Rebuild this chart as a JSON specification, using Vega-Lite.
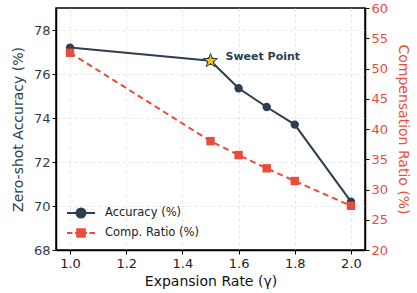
{
  "$schema": "https://vega.github.io/schema/vega-lite/v6.json",
  "width": 309,
  "height": 242,
  "autosize": {"type": "none"},
  "padding": {"left": 56, "top": 8, "right": 52, "bottom": 43},
  "config": {
    "font": "DejaVu Sans",
    "view": {"stroke": "black", "strokeWidth": 1.5},
    "axis": {
      "labelFont": "DejaVu Sans", "titleFont": "DejaVu Sans",
      "labelFontSize": 13, "titleFontSize": 14, "titleFontWeight": "normal",
      "domainColor": "black", "domainWidth": 1.5, "tickColor": "black", "tickSize": 4, "tickWidth": 1,
      "gridColor": "#dedede", "gridDash": [3, 3], "gridWidth": 0.8
    }
  },
  "data": {"values": [
    {"rate": 1.0, "accuracy": 77.2, "ratio": 52.6, "label": ""},
    {"rate": 1.5, "accuracy": 76.6, "ratio": 38.0, "label": "Sweet Point"},
    {"rate": 1.6, "accuracy": 75.35, "ratio": 35.7, "label": ""},
    {"rate": 1.7, "accuracy": 74.5, "ratio": 33.5, "label": ""},
    {"rate": 1.8, "accuracy": 73.7, "ratio": 31.4, "label": ""},
    {"rate": 2.0, "accuracy": 70.2, "ratio": 27.3, "label": ""}
  ]},
  "layer": [
    {
      "mark": {"type": "line", "strokeWidth": 2, "point": {"filled": true, "size": 70, "shape": "circle"}},
      "encoding": {
        "x": {"field": "rate", "type": "quantitative",
          "scale": {"domain": [0.95, 2.05], "nice": false, "zero": false},
          "axis": {"values": [1.0, 1.2, 1.4, 1.6, 1.8, 2.0], "format": ".1f", "title": "Expansion Rate (γ)", "labelColor": "#222", "titleColor": "#111", "labelPadding": 3, "titlePadding": 4}},
        "y": {"field": "accuracy", "type": "quantitative",
          "scale": {"domain": [68, 79], "nice": false, "zero": false},
          "axis": {"orient": "left", "values": [68, 70, 72, 74, 76, 78], "title": "Zero-shot Accuracy (%)", "labelColor": "#2c3e50", "titleColor": "#2c3e50", "titlePadding": 8}},
        "color": {"datum": "Accuracy (%)", "type": "nominal",
          "scale": {"domain": ["Accuracy (%)", "Comp. Ratio (%)"], "range": ["#2c3e50", "#e74c3c"]},
          "legend": {
            "title": null, "orient": "none", "legendX": 14, "legendY": 194,
            "labelFontSize": 11.5, "labelColor": "#222", "symbolSize": 400, "symbolStrokeWidth": 2, "rowPadding": 0, "labelOffset": 13,
            "encode": {"symbols": {"update": {
              "shape": {"signal": "datum.value === 'Accuracy (%)' ? 'M-1.4,0L-0.4,0M0.4,0L1.4,0M0.45,0A0.45,0.45,0,1,1,-0.45,0A0.45,0.45,0,1,1,0.45,0Z' : 'M-1.4,0L-0.85,0M-0.6,0L-0.45,0M0.45,0L0.6,0M0.85,0L1.4,0M-0.38,-0.38L0.38,-0.38L0.38,0.38L-0.38,0.38Z'"},
              "fill": {"signal": "datum.value === 'Accuracy (%)' ? '#2c3e50' : '#e74c3c'"},
              "stroke": {"signal": "datum.value === 'Accuracy (%)' ? '#2c3e50' : '#e74c3c'"},
              "opacity": {"value": 1}
            }}}
          }}
      }
    },
    {
      "mark": {"type": "line", "strokeWidth": 2, "strokeDash": [6, 4], "point": {"filled": true, "size": 70, "shape": "square"}},
      "encoding": {
        "x": {"field": "rate", "type": "quantitative"},
        "y": {"field": "ratio", "type": "quantitative",
          "scale": {"domain": [20, 60], "nice": false, "zero": false},
          "axis": {"orient": "right", "values": [20, 25, 30, 35, 40, 45, 50, 55, 60], "title": "Compensation Ratio (%)", "labelColor": "#e74c3c", "titleColor": "#e74c3c", "titlePadding": 8}},
        "color": {"datum": "Comp. Ratio (%)", "type": "nominal"}
      }
    },
    {
      "transform": [{"filter": "datum.rate === 1.5"}],
      "mark": {"type": "point", "shape": "M0,-1L0.2234,-0.3074L0.9511,-0.309L0.3614,0.1174L0.5878,0.809L0,0.38L-0.5878,0.809L-0.3614,0.1174L-0.9511,-0.309L-0.2234,-0.3074Z", "filled": true, "fill": "#f1c40f", "stroke": "#2c3e50", "strokeWidth": 1, "size": 220, "opacity": 1},
      "encoding": {
        "x": {"field": "rate", "type": "quantitative"},
        "y": {"field": "accuracy", "type": "quantitative", "scale": {"domain": [68, 79], "nice": false, "zero": false}, "axis": null}
      }
    },
    {
      "transform": [{"filter": "datum.rate === 1.5"}],
      "mark": {"type": "text", "align": "left", "baseline": "middle", "dx": 15, "dy": -4, "fontSize": 11, "fontWeight": "bold", "color": "#2c3e50"},
      "encoding": {
        "x": {"field": "rate", "type": "quantitative"},
        "y": {"field": "accuracy", "type": "quantitative", "scale": {"domain": [68, 79], "nice": false, "zero": false}, "axis": null},
        "text": {"field": "label"}
      }
    }
  ],
  "resolve": {"scale": {"y": "independent"}}
}
